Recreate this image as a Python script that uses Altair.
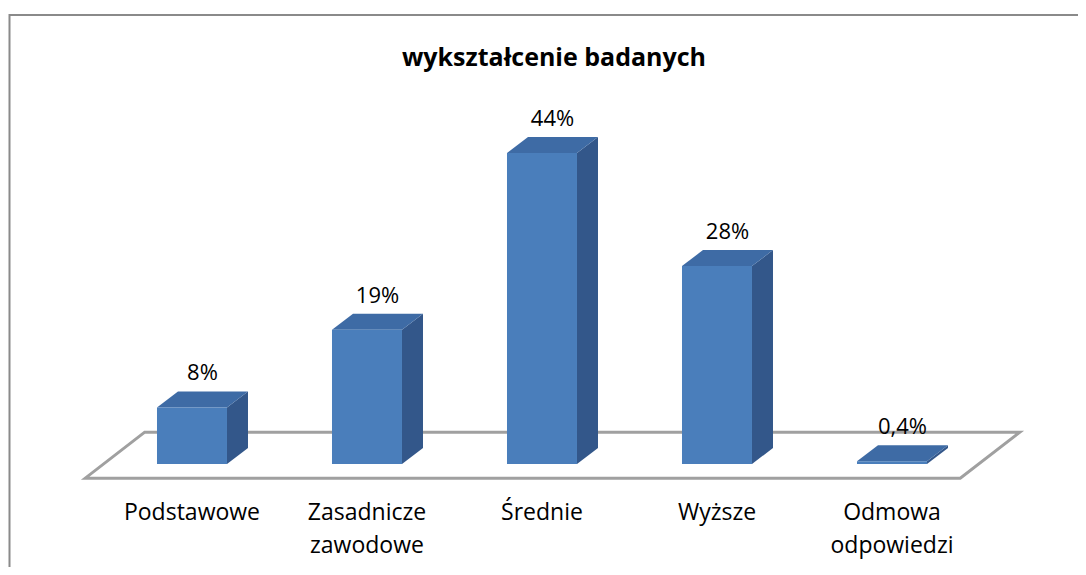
import altair as alt
import pandas as pd

# ---- data ----
categories = ["Podstawowe", "Zasadnicze\nzawodowe", "Średnie", "Wyższe", "Odmowa\nodpowiedzi"]
values = [8, 19, 44, 28, 0.4]
value_labels = ["8%", "19%", "44%", "28%", "0,4%"]
title_text = "wykształcenie badanych"

# ---- 3D geometry parameters (in scale units) ----
HALF_W = 0.2      # half bar width (category units)
DX = 0.12         # depth offset along x (category units)
DY = 2.26         # depth offset along y (percent units)
FLOOR_FRONT, FLOOR_BACK = -2.0, 4.5
FLOOR_L, FLOOR_R, FLOOR_SHIFT = -0.61, 4.39, 0.34

FRONT = "#4A7EBB"
TOP = "#3E6BA5"
SIDE = "#33578A"
FONT = "Open Sans"

front_rows, top_rows, side_rows, lab_rows, cat_rows = [], [], [], [], []
for i, (c, v, t) in enumerate(zip(categories, values, value_labels)):
    front_rows.append({"c": c, "x": i - HALF_W, "x2": i + HALF_W, "y": 0, "y2": v})
    top_rows.append({"c": c, "y": v, "x": i - HALF_W, "x2": i + HALF_W})
    top_rows.append({"c": c, "y": v + DY, "x": i - HALF_W + DX, "x2": i + HALF_W + DX})
    side_rows.append({"c": c, "x": i + HALF_W, "y": 0, "y2": v})
    side_rows.append({"c": c, "x": i + HALF_W + DX, "y": DY, "y2": v + DY})
    lab_rows.append({"c": c, "x": i + DX / 2, "y": v + DY, "t": t})
    cat_rows.append({"x": i, "t": c})

floor_df = pd.DataFrame([
    {"y": FLOOR_FRONT, "x": FLOOR_L, "x2": FLOOR_R},
    {"y": FLOOR_BACK, "x": FLOOR_L + FLOOR_SHIFT, "x2": FLOOR_R + FLOOR_SHIFT},
])

xs = alt.Scale(domain=[-1.0514, 5.0629], nice=False, zero=False)
ys = alt.Scale(domain=[-14.57, 64.5], nice=False, zero=False)
X = lambda f: alt.X(f"{f}:Q", scale=xs, axis=None)
Y = lambda f: alt.Y(f"{f}:Q", scale=ys, axis=None)

frame = alt.Chart(pd.DataFrame({"a": [0]})).mark_rect(
    fill="white", stroke="#8a8a8a", strokeWidth=2
).encode(x=alt.value(1.5), x2=alt.value(1300), y=alt.value(7), y2=alt.value(900))

title = alt.Chart(pd.DataFrame({"t": [title_text]})).mark_text(
    font=FONT, fontSize=25, fontWeight="bold", color="black", baseline="alphabetic"
).encode(x=alt.value(546), y=alt.value(58), text="t:N")

floor = alt.Chart(floor_df).mark_area(
    orient="horizontal", fill="white", stroke="#a0a0a0", strokeWidth=3
).encode(y=Y("y"), x=X("x"), x2=alt.X2("x2"))

front = alt.Chart(pd.DataFrame(front_rows)).mark_rect(color=FRONT).encode(
    x=X("x"), x2=alt.X2("x2"), y=Y("y"), y2=alt.Y2("y2"))

top = alt.Chart(pd.DataFrame(top_rows)).mark_area(orient="horizontal", color=TOP).encode(
    y=Y("y"), x=X("x"), x2=alt.X2("x2"), detail="c:N")

side = alt.Chart(pd.DataFrame(side_rows)).mark_area(orient="vertical", color=SIDE).encode(
    x=X("x"), y=Y("y"), y2=alt.Y2("y2"), detail="c:N")

vlabels = alt.Chart(pd.DataFrame(lab_rows)).mark_text(
    font=FONT, fontSize=22, color="black", baseline="alphabetic", dy=-11
).encode(x=X("x"), y=Y("y"), text="t:N")

clabels = alt.Chart(pd.DataFrame(cat_rows)).mark_text(
    font=FONT, fontSize=23, color="black", baseline="alphabetic",
    lineBreak="\n", lineHeight=33
).encode(x=X("x"), y=alt.value(512), text="t:N")

chart = alt.layer(frame, title, floor, side, top, front, vlabels, clabels).properties(
    width=1070, height=559, padding=0,
    autosize=alt.AutoSizeParams(type="none"),
).configure_view(stroke=None)

chart.save("out.html", embed_options={"renderer": "svg", "actions": False})
